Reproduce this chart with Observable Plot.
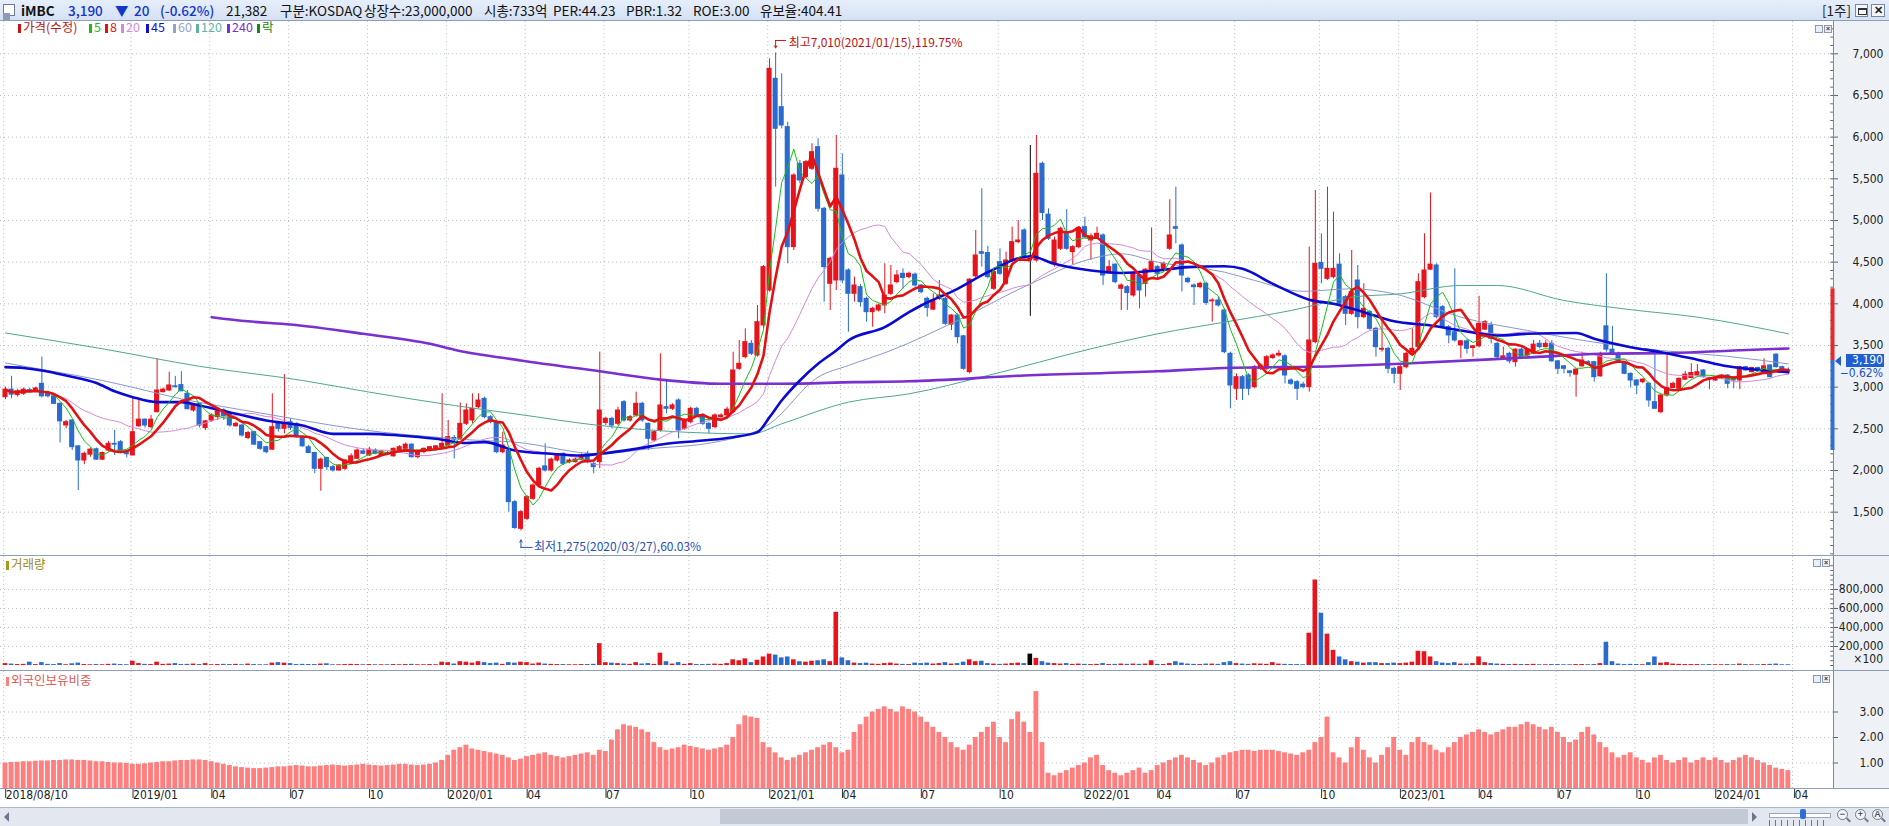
<!DOCTYPE html>
<html><head><meta charset="utf-8">
<script src="https://cdn.jsdelivr.net/npm/d3@7"></script>
<script src="https://cdn.jsdelivr.net/npm/@observablehq/plot@0.6"></script>
<style>
html,body{margin:0;padding:0}
body{width:1889px;height:826px;overflow:hidden;background:#fff;position:relative;font-family:"DejaVu Sans Condensed","Noto Sans CJK KR",sans-serif;color:#222}
.a{position:absolute;white-space:nowrap}
#hdr{left:0;top:0;width:1889px;height:21px;background:linear-gradient(#e6eefa,#d5e1f4);border-bottom:1px solid #8e9dba;box-sizing:border-box}
.ht{top:1px;font-size:13.5px;line-height:18px;font-family:"Noto Sans CJK KR",sans-serif}
.lg{top:19px;font-size:12.5px;line-height:16px;font-family:"Noto Sans CJK KR",sans-serif}
.mk{display:inline-block;width:3px;height:9px;margin-right:2px;vertical-align:-1px}
svg{position:absolute;left:0}
</style></head><body>
<script>
// ---------- DATA (weekly, first week 2018/08/10) ----------
const firstWeek = [2018, 7, 10];
const open = [
2880,2970,2905,2920,2965,2950,3040,2930,2890,2800,
2540,2600,2290,2120,2190,2255,2130,2240,2320,2340,
2230,2180,2530,2610,2520,2700,2940,2960,3010,3025,
2920,2720,2800,2510,2600,2640,2720,2690,2530,2540,
2390,2460,2340,2280,2250,2560,2500,2580,2560,2400,
2280,2210,2020,2150,2040,2000,2020,2090,2140,2230,
2180,2240,2180,2210,2170,2240,2260,2310,2160,2220,
2240,2270,2280,2300,2390,2380,2560,2600,2760,2860,
2640,2580,2220,2240,1620,1300,1420,1660,1820,2050,
2000,2120,2200,2100,2100,2130,2200,2080,2100,2570,
2620,2560,2820,2600,2660,2800,2560,2360,2480,2760,
2740,2840,2500,2580,2740,2660,2560,2520,2640,2660,
2700,3220,3360,3520,3380,3740,4160,6700,6360,6120,
4680,5680,5520,5620,5880,5140,4240,4280,5540,4400,
4120,4200,4060,3900,3920,3980,4120,4260,4360,4320,
4350,4220,4060,3930,4060,4060,3750,3860,3610,3180,
4330,4620,4610,4180,4500,4240,4520,4740,4880,4540,
4520,5680,5070,4480,4660,4860,4620,4680,4920,4760,
4800,4820,4380,4470,4180,4200,4100,4340,4240,4400,
4440,4400,4660,4920,4700,4300,4220,4200,4240,4030,
4040,3920,3400,2980,3120,3140,3000,3220,3220,3350,
3380,3370,3080,3060,3030,3000,3540,4490,4300,4320,
4470,4080,3880,4280,3840,3900,3700,3450,3460,3220,
3160,3240,3420,3480,4080,4410,4460,3960,3720,3660,
3500,3550,3470,3490,3690,3740,3520,3330,3400,3300,
3450,3380,3400,3520,3480,3520,3310,3250,3190,3150,
3250,3300,3300,3130,3730,3450,3400,3280,3160,3080,
3060,3040,2820,2700,2900,2990,2980,3090,3110,3140,
3200,3110,3080,3100,3140,3110,3080,3240,3180,3230,
3180,3260,3390,3240,3200];
const high = [
3000,3130,2975,2990,2990,3000,3360,2950,2900,2810,
2600,2610,2300,2220,2270,2270,2220,2350,2480,2360,
2240,2880,2840,2620,2660,3340,2990,3180,3130,3185,
2960,2800,2810,2600,2680,2740,2740,2700,2580,2550,
2470,2470,2350,2290,2920,2580,3150,2620,2570,2410,
2300,2220,2150,2160,2060,2070,2130,2200,2260,2260,
2280,2260,2240,2230,2270,2300,2330,2320,2230,2270,
2290,2300,2920,2600,2420,2810,2800,2920,2920,2880,
2660,2590,2460,2260,1640,1520,1700,1840,2040,2320,
2150,2200,2210,2140,2150,2200,2230,2100,3420,2640,
2640,2760,2840,2660,2940,2820,2570,2480,3400,3080,
2800,2860,2620,2760,2760,2680,2580,2680,2680,2760,
3420,3560,3700,3560,3980,4460,6940,7010,6760,6180,
5560,5720,5720,5920,5980,5160,4560,6020,5800,4420,
4320,4230,4080,3960,4000,4480,4460,4400,4420,4380,
4370,4230,4080,4120,4280,4080,3870,3880,3620,4300,
4880,5380,4690,4400,4660,4620,4920,5000,4900,5900,
6020,5700,5140,4800,4920,5130,4700,4920,5040,4840,
4920,4840,4520,4480,4240,4220,4380,4360,4420,4910,
4460,4500,5250,5400,4720,4320,4240,4260,4260,4060,
4080,3940,3420,3160,3140,3160,3260,3280,3380,3400,
3440,3390,3100,3080,3060,4680,5360,4840,5400,5100,
4600,4100,4640,4460,4240,3920,3720,3800,3480,3240,
3260,3420,3700,4360,4840,5330,4480,3980,3740,4420,
3560,3570,3500,4090,3800,3780,3540,3480,3420,3460,
3470,3460,3560,3560,3560,3560,3320,3260,3200,3220,
3420,3320,3310,3420,4360,3730,3420,3290,3170,3090,
3100,3060,3440,2910,3420,3060,3110,3190,3280,3270,
3210,3120,3120,3150,3150,3120,3250,3250,3240,3240,
3340,3270,3400,3250,3230];
const low = [
2850,2860,2880,2900,2930,2940,2870,2870,2790,2330,
2500,2240,1760,2070,2160,2120,2120,2220,2180,2200,
2150,2180,2520,2510,2500,2690,2930,2950,2990,2950,
2730,2700,2510,2480,2580,2600,2600,2520,2520,2400,
2370,2300,2240,2200,2240,2460,2440,2480,2390,2280,
2200,1960,1750,2000,1980,1990,2000,2080,2130,2190,
2170,2190,2170,2180,2160,2230,2250,2150,2140,2200,
2230,2260,2270,2290,2140,2360,2540,2560,2740,2620,
2560,2200,2200,1500,1290,1275,1400,1640,1800,1980,
1980,2100,2060,2080,2090,2120,2080,1960,2020,2540,
2500,2540,2580,2580,2640,2580,2240,2340,2460,2680,
2720,2380,2480,2560,2640,2540,2440,2500,2620,2640,
2680,3200,3340,3380,3360,3700,4140,5400,6100,4480,
4640,5440,5500,5600,5100,4020,3920,4160,4240,3660,
4020,3960,3780,3720,3900,3880,4100,4240,4180,4300,
4200,4120,3840,3920,4040,3740,3680,3520,3200,3160,
4300,4440,4300,4160,4340,4220,4500,4720,4540,3850,
4500,5000,4760,4440,4640,4640,4470,4660,4780,4520,
4780,4220,4360,4240,3920,3920,4080,3940,4080,4380,
4300,4380,4640,4720,4140,4240,3980,4180,3980,3780,
3960,3400,2740,2840,2840,2900,2980,3200,3200,3330,
3360,3040,3020,2840,2980,2940,3520,4240,4280,4300,
3980,3740,3860,3700,3820,3680,3360,3420,3160,3040,
2960,3220,3400,3460,4060,4400,3820,3700,3520,3540,
3340,3400,3360,3470,3680,3520,3340,3320,3280,3240,
3340,3370,3390,3460,3470,3300,3150,3160,3120,2880,
3240,3260,3060,3120,3420,3380,3290,3150,2990,2910,
3040,2760,2740,2680,2880,2980,2970,3080,3100,3130,
3110,2970,3070,3090,2980,2980,2970,3190,3170,3200,
3170,3110,3230,3190,3150];
const close = [
2970,2910,2950,2970,2945,2985,2890,2890,2800,2590,
2580,2280,2120,2200,2250,2130,2210,2320,2310,2240,
2195,2460,2610,2540,2610,2960,2970,3020,3000,2950,
2735,2780,2540,2590,2660,2710,2650,2540,2560,2420,
2450,2310,2260,2220,2520,2500,2570,2510,2400,2290,
2210,2020,2130,2040,2000,2060,2120,2170,2240,2200,
2250,2200,2230,2200,2260,2280,2310,2160,2220,2260,
2280,2290,2320,2400,2370,2560,2720,2740,2840,2640,
2580,2220,2300,1620,1310,1500,1680,1820,2020,2000,
2130,2180,2080,2120,2130,2180,2100,2040,2720,2620,
2540,2720,2600,2640,2800,2600,2380,2460,2780,2740,
2780,2480,2600,2740,2660,2560,2500,2660,2660,2730,
3200,3280,3540,3400,3780,4440,6820,6100,6140,4680,
5540,5480,5700,5820,5140,4440,4540,5620,4280,4120,
4220,4020,3900,3940,3980,4100,4220,4340,4310,4360,
4220,4140,3950,4040,4100,3760,3860,3600,3220,4290,
4580,4600,4320,4380,4360,4520,4740,4760,4560,4540,
5560,5090,4780,4760,4900,4660,4680,4910,4800,4810,
4840,4340,4440,4260,4220,4130,4360,4160,4410,4500,
4360,4480,4820,4900,4340,4260,4200,4240,4010,4040,
3980,3420,3020,3120,2980,2980,3240,3260,3360,3380,
3400,3140,3040,2980,3000,3560,4480,4420,4420,4420,
4000,3880,4140,3840,3940,3700,3480,3460,3220,3160,
3240,3400,3460,4260,4400,4470,3840,3720,3620,3560,
3550,3460,3490,3760,3780,3580,3360,3370,3310,3450,
3350,3450,3510,3480,3520,3310,3220,3220,3170,3210,
3320,3280,3120,3390,3450,3400,3300,3160,3080,3020,
3090,2840,2740,2900,2990,3040,3100,3150,3170,3180,
3120,3090,3110,3140,3040,3080,3240,3200,3230,3210,
3250,3120,3240,3210,3190];
// weekly volume, in thousands of axis units
const volumeK = [
20,15,10,12,35,10,30,12,10,20,
8,18,25,10,8,10,8,12,15,10,
8,45,20,12,10,35,12,15,20,10,
12,15,10,20,8,10,12,10,12,8,
15,10,8,8,25,30,25,20,10,12,
10,10,15,18,8,8,10,12,10,8,
10,8,8,8,10,8,10,12,8,8,
10,8,35,30,15,40,35,25,40,30,
20,25,12,30,25,35,30,15,25,15,
12,10,10,8,8,10,10,12,230,30,
25,20,15,12,30,15,20,12,130,40,
15,30,12,20,10,10,12,15,12,20,
60,50,70,30,55,90,120,110,80,90,
60,40,35,45,50,60,40,560,80,50,
25,20,25,15,12,20,25,15,12,10,
25,20,25,15,20,30,15,20,35,60,
40,45,20,15,12,15,20,25,20,120,
75,40,25,20,15,20,12,15,12,10,
12,20,10,12,15,12,15,12,15,50,
12,10,20,40,25,15,12,10,15,15,
12,30,40,20,15,12,18,15,12,30,
15,12,10,10,8,340,900,550,330,160,
90,60,40,35,25,30,30,20,20,25,
20,25,35,150,145,90,40,25,20,30,
15,15,20,90,30,20,15,12,10,12,
10,10,12,8,8,10,10,8,8,10,
10,8,10,20,245,40,15,10,12,10,
8,30,90,25,30,15,12,10,10,10,
8,10,8,8,10,8,15,10,8,8,
10,12,15,8,8];
// foreign ownership ratio (%)
const foreignPct = [
1.00,1.02,1.03,1.05,1.05,1.07,1.08,1.08,1.10,1.10,
1.12,1.12,1.10,1.10,1.08,1.05,1.05,1.02,1.00,1.00,
0.98,0.95,0.95,0.97,1.00,1.02,1.05,1.05,1.08,1.10,
1.10,1.12,1.12,1.10,1.05,1.00,0.95,0.90,0.85,0.82,
0.80,0.78,0.78,0.80,0.82,0.85,0.85,0.88,0.90,0.88,
0.85,0.85,0.88,0.90,0.92,0.90,0.88,0.90,0.92,0.95,
0.92,0.90,0.88,0.90,0.92,0.95,0.95,0.92,0.90,0.92,
0.95,1.00,1.10,1.30,1.50,1.60,1.70,1.55,1.50,1.45,
1.40,1.35,1.30,1.20,1.10,1.15,1.25,1.30,1.35,1.40,
1.30,1.25,1.20,1.25,1.30,1.35,1.40,1.30,1.50,1.45,
1.90,2.30,2.50,2.45,2.40,2.30,2.20,1.80,1.60,1.50,
1.55,1.60,1.70,1.65,1.60,1.55,1.50,1.55,1.60,1.70,
2.00,2.50,2.85,2.80,2.75,1.80,1.60,1.40,1.20,1.10,
1.20,1.30,1.40,1.50,1.60,1.70,1.80,1.60,1.40,1.50,
2.20,2.50,2.80,3.00,3.10,3.20,3.10,3.00,3.20,3.10,
3.00,2.80,2.60,2.40,2.20,2.00,1.80,1.60,1.50,1.70,
2.00,2.20,2.40,2.60,2.00,1.80,2.70,3.00,2.60,2.20,
3.80,1.80,0.60,0.50,0.60,0.70,0.80,0.90,1.00,1.20,
1.30,0.90,0.70,0.60,0.50,0.60,0.70,0.80,0.60,0.70,
0.90,1.00,1.10,1.20,1.30,1.20,1.10,1.00,0.90,1.00,
1.20,1.30,1.40,1.45,1.50,1.50,1.45,1.50,1.50,1.50,
1.45,1.40,1.35,1.30,1.40,1.50,1.80,2.00,2.80,1.40,
1.20,1.00,1.60,2.00,1.50,1.20,1.00,1.30,1.60,2.00,
1.50,1.30,1.80,2.00,1.80,1.70,1.50,1.40,1.60,1.80,
2.00,2.10,2.20,2.30,2.20,2.10,2.20,2.30,2.40,2.40,
2.50,2.60,2.50,2.40,2.30,2.40,2.20,2.00,1.80,1.90,
2.20,2.40,2.10,1.80,1.60,1.40,1.20,1.30,1.40,1.20,
1.10,1.00,1.20,1.30,1.10,1.00,1.10,1.20,1.00,1.10,
1.20,1.10,1.20,1.10,1.00,1.10,1.20,1.30,1.20,1.10,
1.00,0.90,0.80,0.75,0.70];
// long moving averages: [week, value]
const ma45Pts = [[0,3240],[3,3230],[6,3200],[10,3140],[15,3050],[18,2950],[21,2880],[25,2820],[29,2820],[32,2780],[38,2680],[43,2600],[49,2540],[54,2440],[60,2440],[65,2420],[71,2380],[76,2330],[79,2340],[84,2240],[90,2200],[95,2180],[98,2200],[104,2260],[109,2320],[115,2360],[120,2400],[124,2460],[126,2640],[128,2840],[131,3080],[134,3280],[137,3440],[139,3560],[145,3720],[149,3900],[151,3980],[157,4180],[162,4380],[169,4570],[173,4480],[179,4400],[184,4370],[190,4400],[195,4440],[201,4450],[204,4420],[209,4240],[215,4050],[219,4000],[224,3900],[229,3790],[235,3740],[240,3680],[246,3620],[251,3640],[259,3650],[262,3580],[268,3480],[273,3420],[279,3330],[284,3250],[290,3200],[294,3180]];
const ma60Pts = [[0,3290],[7,3200],[16,3080],[22,2980],[29,2860],[38,2740],[46,2640],[54,2540],[62,2460],[71,2400],[76,2370],[84,2340],[98,2200],[106,2260],[117,2340],[126,2560],[134,3120],[139,3260],[146,3440],[157,3800],[169,4240],[179,4540],[184,4600],[190,4500],[201,4380],[206,4280],[214,4150],[222,4180],[229,4120],[240,3840],[251,3680],[262,3540],[273,3440],[284,3370],[294,3280]];
const ma120Pts = [[0,3650],[16,3460],[32,3250],[49,3080],[60,2940],[74,2780],[84,2680],[98,2540],[112,2460],[123,2440],[128,2560],[139,2820],[149,2920],[162,3140],[179,3460],[190,3640],[201,3780],[212,3920],[222,4080],[230,4120],[240,4220],[246,4220],[257,4040],[268,3930],[279,3840],[294,3640]];
const ma240Pts = [[34,3840],[40,3790],[47,3752],[59,3640],[70,3520],[74,3450],[85,3320],[98,3190],[108,3090],[118,3040],[128,3040],[140,3060],[149,3070],[168,3140],[190,3190],[201,3230],[219,3250],[230,3280],[252,3360],[263,3400],[275,3410],[285,3440],[294,3464]];
// axis-side range bar (price levels)
const rangeBar = {high: 4180, mid: 3320, low: 2240};
// x tick weeks and labels
const tickWeeks = [0,21,34,47,60,73,86,99,113,126,138,151,164,178,190,203,217,230,243,256,269,282,295];
const tickLabels = ["2018/08/10","2019/01","04","07","10","2020/01","04","07","10","2021/01","04","07","10","2022/01","04","07","10","2023/01","04","07","10","2024/01","04"];
const priceTicks = [1500,2000,2500,3000,3500,4000,4500,5000,5500,6000,6500,7000];
const volTicksK = [200,400,600,800];
const forTicks = [1,2,3];

// ---------- BUILD ----------
const N = close.length;
const UP = "#e8141c", DOWN = "#2a6bd0", EVEN = "#000000";
const rows = d3.range(N).map(i => ({i, o: open[i], h: high[i], l: low[i], c: close[i], v: volumeK[i], f: foreignPct[i]}));
const col = d => d.c > d.o ? UP : d.c < d.o ? DOWN : EVEN;
const sma = n => close.map((_, i) => [i, d3.mean(close.slice(Math.max(0, i - n + 1), i + 1))]);
const ma5 = sma(5), ma8 = sma(8), ma20 = sma(20);
const xDomain = [-0.8245, 301.45];
const tickPos = tickWeeks.map(w => w - 0.3);
const labelAt = new Map(tickPos.map((p, k) => [p, tickLabels[k]]));
const FONT = '"DejaVu Sans Condensed","Noto Sans CJK KR",sans-serif';
const grid = {stroke: "#b4bfd0", strokeDasharray: "1,3", strokeWidth: 1};
const common = {
  width: 1889, marginLeft: 0, marginRight: 56,
  x: {domain: xDomain, axis: null},
  color: {type: "identity"},
  style: {background: "transparent", fontFamily: FONT, fontSize: "12px", color: "#222", overflow: "visible"}
};
const xR = xDomain[1];
const cur = close[N - 1];
const hiI = d3.maxIndex(high), loI = d3.minIndex(low);
const d0 = new Date(Date.UTC(firstWeek[0], firstWeek[1], firstWeek[2]));
const dateStr = i => d3.utcFormat("%Y/%m/%d")(d3.utcDay.offset(d0, i * 7));
const hiText = `최고${d3.format(",")(high[hiI])}(${dateStr(hiI)}),${d3.format(".2f")((high[hiI] - cur) / cur * 100)}%`;
const loText = `최저${d3.format(",")(low[loI])}(${dateStr(loI)}),${d3.format(".2f")((cur - low[loI]) / cur * 100)}%`;
const PX = 12; // price units per pixel
const yAx = {anchor: "right", tickSize: 4, tickPadding: 46, textAnchor: "end", stroke: "#5a6478", label: null};

const priceChart = Plot.plot({
  ...common, height: 534, marginTop: 0, marginBottom: 0,
  y: {domain: [980, 7387.6], axis: null, label: null},
  marks: [
    Plot.ruleX(tickPos, grid),
    Plot.ruleY(priceTicks, grid),
    Plot.ruleX(rows, {x: "i", y1: "l", y2: "h", stroke: col, strokeWidth: 1}),
    Plot.rect(rows, {x1: d => d.i - 0.42, x2: d => d.i + 0.42, y1: d => Math.min(d.o, d.c), y2: d => Math.max(d.o, d.c), fill: col, insetTop: -0.5, insetBottom: -0.5}),
    Plot.line(ma120Pts, {x: d => d[0], y: d => d[1], stroke: "#4fa68f", strokeWidth: 1, curve: "monotone-x"}),
    Plot.line(ma60Pts, {x: d => d[0], y: d => d[1], stroke: "#8a98c6", strokeWidth: 1, curve: "monotone-x"}),
    Plot.line(ma20, {x: d => d[0], y: d => d[1], stroke: "#d38ad6", strokeWidth: 1}),
    Plot.line(ma240Pts, {x: d => d[0], y: d => d[1], stroke: "#7a2fcf", strokeWidth: 2.6, curve: "monotone-x"}),
    Plot.line(ma45Pts, {x: d => d[0], y: d => d[1], stroke: "#0a0ad2", strokeWidth: 2.6, curve: "monotone-x"}),
    Plot.line(ma5, {x: d => d[0], y: d => d[1], stroke: "#16c016", strokeWidth: 1}),
    Plot.line(ma8, {x: d => d[0], y: d => d[1], stroke: "#e31212", strokeWidth: 2.6}),
    // high / low annotations
    Plot.ruleY([{i: hiI, v: high[hiI] + 12.5 * PX}], {y: "v", x1: "i", x2: d => d.i + 1.8, stroke: "#c81414"}),
    Plot.arrow([{i: hiI, v: high[hiI]}], {x1: "i", x2: "i", y1: d => d.v + 12.5 * PX, y2: d => d.v + 5 * PX, stroke: "#c81414", headLength: 4, strokeWidth: 1}),
    Plot.text([{i: hiI, v: high[hiI], t: hiText}], {x: "i", y: "v", text: "t", dx: 13, dy: -9.5, textAnchor: "start", fill: "#c41010", fontSize: 12, fontFamily: '"Noto Sans CJK KR",sans-serif'}),
    Plot.ruleY([{i: loI, v: low[loI] - 16.5 * PX}], {y: "v", x1: "i", x2: d => d.i + 2, stroke: "#2850b4"}),
    Plot.arrow([{i: loI, v: low[loI]}], {x1: "i", x2: "i", y1: d => d.v - 16.5 * PX, y2: d => d.v - 9 * PX, stroke: "#2850b4", headLength: 4, strokeWidth: 1}),
    Plot.text([{i: loI, v: low[loI], t: loText}], {x: "i", y: "v", text: "t", dx: 13, dy: 16.5, textAnchor: "start", fill: "#2850b4", fontSize: 12, fontFamily: '"Noto Sans CJK KR",sans-serif'}),
    // axis
    Plot.ruleY(d3.range(1000, 7400, 100), {y: d => d, x1: xR - 0.45, x2: xR, stroke: "#5a6478"}),
    Plot.ruleX([rangeBar], {x: xR, y1: "mid", y2: "high", stroke: "#e32b2b", strokeWidth: 4, dx: -1}),
    Plot.ruleX([rangeBar], {x: xR, y1: "low", y2: "mid", stroke: "#2f6fd6", strokeWidth: 4, dx: -1}),
    Plot.axisY(priceTicks, {...yAx, tickFormat: d3.format(",")})
  ]
});

const volChart = Plot.plot({
  ...common, height: 114, marginTop: 0, marginBottom: 0,
  y: {domain: [-5 * 10.526, 109 * 10.526], axis: null, label: null},
  marks: [
    Plot.ruleX(tickPos, grid),
    Plot.ruleY(volTicksK, grid),
    Plot.rectY(rows, {x1: d => d.i - 0.38, x2: d => d.i + 0.38, y: "v", fill: col}),
    Plot.ruleY(d3.range(0, 1100, 50), {y: d => d, x1: xR - 0.45, x2: xR, stroke: "#5a6478"}),
    Plot.axisY(volTicksK, {...yAx, tickFormat: d => d3.format(",")(d * 1000)})
  ]
});

const forChart = Plot.plot({
  ...common, height: 137, marginTop: 0, marginBottom: 20,
  y: {domain: [0, 117 / 25.5], axis: null, label: null},
  marks: [
    Plot.ruleX(tickPos, grid),
    Plot.ruleY(forTicks, grid),
    Plot.rectY(rows, {x1: d => d.i - 0.4, x2: d => d.i + 0.4, y: "f", fill: "#ff7f7f"}),
    Plot.axisY(forTicks, {...yAx, tickFormat: d3.format(".2f")}),
    Plot.axisX(tickPos, {anchor: "bottom", tickSize: 10, tickPadding: -8, textAnchor: "start", dx: 2, tickFormat: d => labelAt.get(d), stroke: "#333", fontSize: 12, label: null})
  ]
});

// ---------- LAYOUT ----------
const body = document.body;
function div(css, html) { const e = document.createElement("div"); e.className = "a"; e.style.cssText = css; if (html != null) e.innerHTML = html; body.appendChild(e); return e; }
// axis column background
div("left:1833px;top:21px;width:56px;height:767px;background:#eef1f6");
div("left:1833px;top:21px;width:1px;height:767px;background:#7d8aa3");
// header
const h = div("", ""); h.id = "hdr";
div("left:3px;top:4px;width:12px;height:12px;border:1px solid #6c7a94;background:#fff;box-sizing:border-box");
const H = (x, txt, c, w) => { const e = div(`left:${x}px;color:${c};font-weight:${w||400}`, txt); e.className = "a ht"; };
H(21, "iMBC", "#111", 700);
H(68, "3,190", "#1237c9", 500);
H(115, "&#9660;", "#1237c9", 500);
H(134, "20", "#1237c9", 500);
H(160, "(-0.62%)", "#1237c9", 500);
H(226, "21,382", "#111");
H(280, "구분:KOSDAQ", "#111");
H(364, "상장수:23,000,000", "#111");
H(484, "시총:733억", "#111");
H(553, "PER:44.23", "#111");
H(626, "PBR:1.32", "#111");
H(693, "ROE:3.00", "#111");
H(760, "유보율:404.41", "#111");
H(1822, "[1주]", "#222");
div("left:1855px;top:4px;width:13px;height:13px;border:1px solid #7787a6;background:#f4f6fa;box-sizing:border-box", '<div style="margin:3px 2px;width:7px;height:4px;border:1px solid #333;border-top-width:2px"></div>');
div("left:1871px;top:4px;width:14px;height:13px;border:1px solid #7787a6;background:#f4f6fa;box-sizing:border-box;font:bold 11px/11px sans-serif;text-align:center;color:#222", "&#10005;");
// charts
[[priceChart, 21], [volChart, 556], [forChart, 671]].forEach(([c, t]) => { c.style.top = t + "px"; c.style.position = "absolute"; c.style.left = "0px"; body.appendChild(c); });
// separators
div("left:0;top:555px;width:1889px;height:1px;background:#8e9dba");
div("left:0;top:670px;width:1889px;height:1px;background:#8e9dba");
div("left:0;top:788px;width:1889px;height:1px;background:#8e9dba");
// legend
div("left:3px;top:13px;width:7px;height:7px;background:#8c9ab2");
const lg = [["가격(수정)", "#d01010", "#b81818"], ["5", "#1cb81c", "#1cb81c"], ["8", "#e01010", "#e01010"], ["20", "#d38ad6", "#d38ad6"], ["45", "#1010c8", "#1010c8"], ["60", "#93a3c9", "#93a3c9"], ["120", "#5fb3a4", "#5fb3a4"], ["240", "#7a2fcf", "#7a2fcf"], ["락", "#128a12", "#128a12"]];
const lgX = [18, 89, 105, 121, 146, 173, 196, 227, 257];
lg.forEach(([t, m, c], k) => { const e = div(`left:${lgX[k]}px;color:${c}`, `<span class="mk" style="background:${m}"></span>${t}`); e.className = "a lg"; });
// pane titles
(() => { const e = div("left:6px;top:556px;color:#9a8a1e", '<span class="mk" style="background:#a89a20"></span>거래량'); e.className = "a lg"; })();
(() => { const e = div("left:6px;top:672px;color:#e05a5a", '<span class="mk" style="background:#ff7f7f"></span>외국인보유비중'); e.className = "a lg"; })();
// pane buttons
[[1815, 25], [1813, 559], [1813, 675]].forEach(([x, y]) => {
  div(`left:${x}px;top:${y}px;width:8px;height:8px;border:1px solid #8898b8;background:#e9eef7;box-sizing:border-box`);
  div(`left:${x + 9}px;top:${y}px;width:8px;height:8px;border:1px solid #8898b8;background:#e9eef7;box-sizing:border-box;font:bold 7px/6px sans-serif;text-align:center;color:#333`, "&#215;");
});
// volume unit
div("left:1833px;top:652px;width:50px;text-align:right;font-size:12px;line-height:14px;color:#222", "&#215;100");
// current price tag
const yCur = 21 + priceChart.scale("y").apply(cur);
div(`left:1846px;top:${yCur - 17}px;width:38px;height:13px;background:#1f5fd1;color:#fff;font-size:12px;line-height:13px;text-align:right;padding-right:1px;box-sizing:border-box`, d3.format(",")(cur));
div(`left:1836px;top:${yCur - 4}px;width:47px;text-align:right;font-size:12px;line-height:13px;color:#2050c0`, d3.format(".2f")((cur - close[N - 2]) / close[N - 2] * 100) + "%");
div(`left:1835px;top:${yCur - 15}px;width:0;height:0;border-top:5px solid transparent;border-bottom:5px solid transparent;border-right:6px solid #1f5fd1`);
// scrollbar row
div("left:0;top:807px;width:1889px;height:19px;background:#e3e8f0;border-top:1px solid #a9b5c8;box-sizing:border-box");
div("left:4px;top:812px;width:0;height:0;border-top:5px solid transparent;border-bottom:5px solid transparent;border-right:5px solid #6b778c");
div("left:720px;top:809px;width:1028px;height:15px;background:#c3cad6");
div("left:1752px;top:812px;width:0;height:0;border-top:5px solid transparent;border-bottom:5px solid transparent;border-left:5px solid #6b778c");
div("left:1769px;top:813px;width:60px;height:3px;background:#fff;border:1px solid #9aa6ba");
div("left:1800px;top:809px;width:6px;height:10px;background:#2f6fd6;border-radius:2px");
div("left:1769px;top:820px;width:60px;height:6px;background:repeating-linear-gradient(90deg,#6b778c 0 1px,transparent 1px 6px)");
[1844, 1862, 1879].forEach((x, k) => {
  div(`left:${x - 7}px;top:809px;width:11px;height:11px;border:1.5px solid #6f7a8c;border-radius:50%;box-sizing:border-box;background:#f3f5f9;font:bold 9px/8px sans-serif;text-align:center;color:#555`, ["&#8722;", "+", "A"][k]);
  div(`left:${x + 2}px;top:819px;width:5px;height:2px;background:#6f7a8c;transform:rotate(45deg)`);
});
</script>
</body></html>
